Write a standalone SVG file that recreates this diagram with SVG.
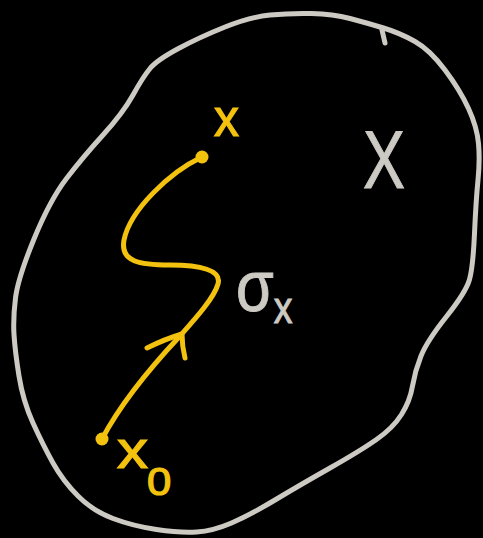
<svg xmlns="http://www.w3.org/2000/svg" width="483" height="538" viewBox="0 0 483 538">
  <style>
    .outline { fill: none; stroke: #cdcac4; stroke-width: 5; stroke-linecap: round; stroke-linejoin: round; }
    .ypath { fill: none; stroke: #f3c20f; stroke-width: 5; stroke-linecap: round; stroke-linejoin: round; }
    .ylab { font-family: "Liberation Sans", "DejaVu Sans", sans-serif; fill: #f3c20f; stroke: #f3c20f; stroke-width: 1.2; }
    .glab { font-family: "Liberation Sans", "DejaVu Sans", sans-serif; fill: #cdcac4; stroke: #cdcac4; stroke-width: 1; }
  </style>
  <rect x="0" y="0" width="483" height="538" fill="#000"/>
  <g id="region-X">
    <path class="outline" d="M270,15 Q290,13 311.5,13.5 Q333,14 350,18.5 Q367,23 383.5,28 Q400,33 415,41.5 Q430,50 445,70 Q460,90 468.5,108.5 Q477,127 478.5,143.5 Q480,160 478,180 Q476,200 474.5,233.5 Q473,267 469.5,279.5 Q466,292 446.5,316.5 Q427,341 421,356 Q415,371 412.5,386 Q410,401 401.5,414.5 Q393,428 376.5,439.5 Q360,451 330,468 Q300,485 275,500 Q250,515 231.5,523 Q213,531 196.5,532 Q180,533 156.5,529.5 Q133,526 113,518.5 Q93,511 78,496 Q63,481 53,463 Q43,445 33,423 Q23,401 19,376 Q15,351 14,334.5 Q13,318 15.5,298 Q18,278 34,239 Q50,200 66.5,178.5 Q83,157 103,135 Q123,113 133,95 Q143,77 150,68.5 Q157,60 178.5,48.5 Q200,37 225,27 Q250,17 270,15 Z"/>
    <path class="outline" d="M382,30 L385,43" stroke-width="4"/>
    <text class="glab" x="363" y="188" font-size="82" textLength="42" lengthAdjust="spacingAndGlyphs">X</text>
  </g>
  <g id="point-x">
    <circle cx="202" cy="157" r="6.5" fill="#f3c20f"/>
    <text class="ylab" x="214" y="136" font-size="54" textLength="25" lengthAdjust="spacingAndGlyphs">x</text>
  </g>
  <g id="point-x0">
    <circle cx="102" cy="439" r="6.5" fill="#f3c20f"/>
    <text class="ylab" transform="translate(117,468) scale(1.15,1)" font-size="54">x<tspan font-size="38" dy="27" dx="-1">0</tspan></text>
  </g>
  <g id="connectors">
    <path id="sigma-path" class="ypath" d="M202,157 C170,172 130,210 124,240 C120,262 140,265 170,265 C200,265 222,270 218,284 C214,298 196,318 180,336 C150,368 120,405 102,439"/>
    <path class="ypath" d="M147,348 Q165,339 182,334 Q182,346 185,358"/>
    <g id="label-sigma">
      <text class="glab" transform="translate(236,311) scale(0.85,1)" font-size="72">σ<tspan font-size="44" dy="12" dx="0">x</tspan></text>
    </g>
  </g>
</svg>
